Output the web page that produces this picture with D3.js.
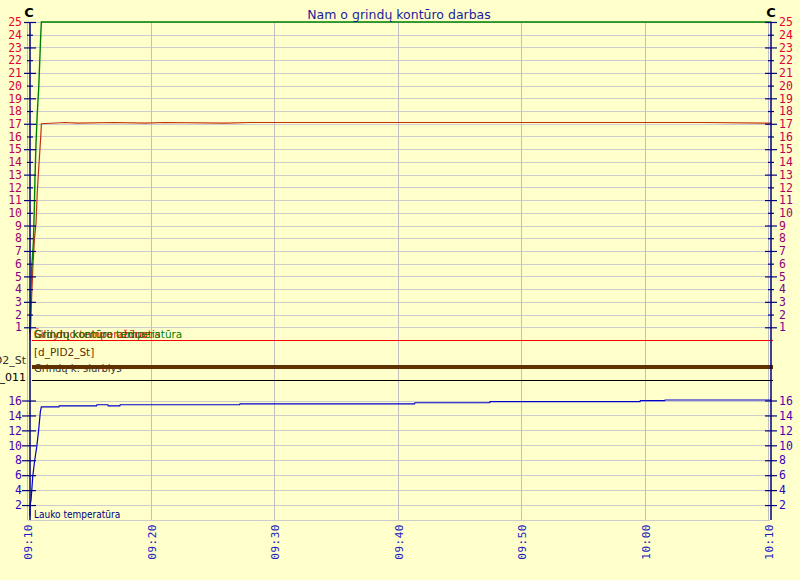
<!DOCTYPE html>
<html><head><meta charset="utf-8">
<script src="https://cdn.jsdelivr.net/npm/d3@7"></script>
<style>
body{margin:0;background:#ffffcc;}
svg{display:block;}
</style></head><body>
<svg id="chart" width="800" height="580"></svg>
<script>
// ---------- data ----------
const chartTitle = "Nam o grindų kontūro darbas";
const unitLabel = "C";
const timeTicks = ["09:10","09:20","09:30","09:40","09:50","10:00","10:10"];
const topTicks = [1,2,3,4,5,6,7,8,9,10,11,12,13,14,15,16,17,18,19,20,21,22,23,24,25];
const bottomTicks = [2,4,6,8,10,12,14,16];

// Grindų kontūro temperatūra (green, top panel)
const greenTimes  = ["09:10:08","09:10:10","09:10:18","09:10:26","09:10:31","09:10:34","09:10:39","09:10:45","09:10:52","09:10:57","09:11:02","09:11:05","10:10:12"];
const greenValues = [0.5,1.5,5.7,7.6,10.5,12.8,15.5,17.8,19.8,21.9,24.0,26.0,26.0];

// Šildymo temperatūra (dark red, top panel)
const redTimes  = ["09:10:10","09:10:13","09:10:18","09:10:23","09:10:31","09:10:39","09:10:45","09:10:52","09:10:58","09:11:03","09:11:05","09:13:00","09:14:00","09:17:00","09:19:30","09:21:00","09:26:00","09:28:00","09:45:00","10:05:00","10:10:12"];
const redValues = [0.0,1.0,3.5,5.5,7.9,9.2,11.6,13.5,15.0,16.3,17.0,17.1,17.05,17.1,17.05,17.1,17.05,17.1,17.1,17.1,17.05];

// Lauko temperatūra (blue, bottom panel)
const blueTimes  = ["09:10:09","09:10:10","09:10:15","09:10:23","09:10:33","09:10:42","09:10:52","09:11:00","09:11:05","09:12:30","09:12:32","09:15:33","09:15:35","09:16:28","09:16:30","09:17:26","09:17:28","09:27:08","09:27:10","09:41:18","09:41:20","09:47:23","09:47:25","09:59:33","09:59:35","10:01:33","10:01:35","10:10:12"];
const blueValues = [0.5,2.0,2.7,5.8,8.1,9.7,12.1,14.5,15.15,15.15,15.28,15.28,15.43,15.43,15.28,15.28,15.43,15.43,15.55,15.55,15.7,15.7,15.84,15.84,15.97,15.97,16.07,16.07];

// digital series (all off)
const digitalNames  = ["Grindų kontūro užduotis","d_PID2_St","d_011"];
const digitalTimes  = ["09:10:10","10:10:12"];
const digitalValues = [[0,0],[0,0],[0,0]];

// legend texts
const topLegendNames = ["Šildymo temperatūra","Grindų kontūro užduotis","Grindų kontūro temperatūra"];
const pidLabel = "[d_PID2_St]";
const pumpLabel = "Grindų k. siurblys";
const bottomLegendName = "Lauko temperatūra";

// ---------- styles ----------
const topLegendColors = ["#c03010","#ff0000","#008000"];
const digitalColors = ["#ff0000","#603000","#000000"];
const digitalWidths = [1,4,1];
const digitalBase = [340.5,367,380.5];

const svg = d3.select("#chart");
const parse = d3.timeParse("%H:%M:%S");
const parseHM = d3.timeParse("%H:%M");

const x = d3.scaleTime().domain([parseHM("09:10"), parseHM("10:10")]).range([28, 769]);
const yTop = d3.scaleLinear().domain([0,25]).range([340,22]).clamp(true);
const yBot = d3.scaleLinear().domain([0,16]).range([520,400.5]);
const AX_L = 30, AX_R = 771;

const labelColor = d3.interpolateRgb("#f0002a","#2800d0");
const colorAt = y => labelColor((y-22)/(520-22));

// ---------- grid ----------
const grid = svg.append("g").attr("stroke","#cccccc").attr("stroke-width",1).attr("shape-rendering","crispEdges");
grid.selectAll("line.ht").data([0].concat(topTicks)).join("line")
  .attr("x1",AX_L).attr("x2",AX_R-1).attr("y1",d=>Math.round(yTop(d))+0.5).attr("y2",d=>Math.round(yTop(d))+0.5);
grid.selectAll("line.hb").data([0].concat(bottomTicks)).join("line").attr("class","hb")
  .attr("x1",AX_L-2).attr("x2",AX_R-1).attr("y1",d=>Math.round(yBot(d))+0.5).attr("y2",d=>Math.round(yBot(d))+0.5);
grid.selectAll("line.v").data(timeTicks).join("line").attr("class","v")
  .attr("x1",d=>Math.round(x(parseHM(d)))-0.5).attr("x2",d=>Math.round(x(parseHM(d)))-0.5)
  .attr("y1",22).attr("y2",520).attr("stroke","#c0c0c0");

// ---------- legend texts in middle band ----------
topLegendNames.forEach((n,i)=>{
  svg.append("text").attr("x",34).attr("y",338).text(n)
    .attr("fill",topLegendColors[i]).attr("font-family","DejaVu Sans").attr("font-size","10.5px");
});
svg.append("text").attr("x",34).attr("y",356).text(pidLabel)
  .attr("fill","#603000").attr("font-family","DejaVu Sans").attr("font-size","10.5px");
svg.append("text").attr("x",34).attr("y",372).text(pumpLabel)
  .attr("fill","#333333").attr("font-family","DejaVu Sans").attr("font-size","10px");
svg.append("text").attr("x",26).attr("y",364).attr("text-anchor","end").text(digitalNames[1])
  .attr("fill","#333").attr("font-family","DejaVu Sans").attr("font-size","11px");
svg.append("text").attr("x",26).attr("y",381).attr("text-anchor","end").text(digitalNames[2])
  .attr("fill","#000").attr("font-family","DejaVu Sans").attr("font-size","11px");
svg.append("text").attr("x",34).attr("y",518).text(bottomLegendName)
  .attr("fill","#000080").attr("font-family","DejaVu Sans Condensed, DejaVu Sans").attr("font-size","10px");

// ---------- digital lines ----------
digitalNames.forEach((n,i)=>{
  const yD = d3.scaleLinear().domain([0,1]).range([digitalBase[i], digitalBase[i]-10]);
  const pts = digitalTimes.map((t,j)=>({t:parse(t), v:digitalValues[i][j]}));
  svg.append("path").datum(pts)
    .attr("d", d3.line().curve(d3.curveStepAfter).x(d=>x(d.t)+2).y(d=>yD(d.v)))
    .attr("fill","none").attr("stroke",digitalColors[i]).attr("stroke-width",digitalWidths[i])
    .attr("shape-rendering","crispEdges");
});

// ---------- analog series ----------
function series(times, values){ return times.map((t,i)=>({t:parse(t), v:values[i]})); }
const lineTop = d3.line().x(d=>x(d.t)).y(d=>yTop(d.v));
const lineBot = d3.line().x(d=>x(d.t)).y(d=>yBot(d.v));
svg.append("path").datum(series(redTimes,redValues)).attr("d",lineTop)
  .attr("fill","none").attr("stroke","#c03010").attr("stroke-width",1.2);
svg.append("path").datum(series(greenTimes,greenValues)).attr("d",lineTop)
  .attr("fill","none").attr("stroke","#008000").attr("stroke-width",1.4);
svg.append("path").datum(series(blueTimes,blueValues)).attr("d",lineBot)
  .attr("fill","none").attr("stroke","#0000cc").attr("stroke-width",1.2);

// ---------- axes ----------
const axisColor = "#000080";
function styleAxis(g, side, scale, longFn){
  g.select(".domain").remove();
  g.selectAll(".tick line").attr("stroke",axisColor).attr("stroke-width",1.2)
    .attr("x1", d=> longFn(d) ? -6 : -3).attr("x2", d=> longFn(d) ? 6 : 3);
  g.selectAll(".tick text")
    .attr("x", side==="left" ? -8 : 8)
    .attr("fill", d=>colorAt(scale(d)))
    .attr("font-family","DejaVu Sans Mono").attr("font-size","11.5px");
}
const gL1 = svg.append("g").attr("transform",`translate(${AX_L},0)`)
  .call(d3.axisLeft(yTop).tickValues(topTicks).tickSizeOuter(0));
styleAxis(gL1,"left",yTop,d=>d%2===1);
const gR1 = svg.append("g").attr("transform",`translate(${AX_R},0)`)
  .call(d3.axisRight(yTop).tickValues(topTicks).tickSizeOuter(0));
styleAxis(gR1,"right",yTop,d=>d%2===1);
const gL2 = svg.append("g").attr("transform",`translate(${AX_L},0)`)
  .call(d3.axisLeft(yBot).tickValues(bottomTicks).tickSizeOuter(0));
styleAxis(gL2,"left",yBot,d=>true);
gL2.selectAll(".tick line").attr("x1",-8);
const gR2 = svg.append("g").attr("transform",`translate(${AX_R},0)`)
  .call(d3.axisRight(yBot).tickValues(bottomTicks).tickSizeOuter(0));
styleAxis(gR2,"right",yBot,d=>true);

[AX_L, AX_R].forEach(ax=>{
  svg.append("line").attr("x1",ax).attr("x2",ax).attr("y1",22).attr("y2",520)
    .attr("stroke",axisColor).attr("stroke-width",1.5);
});

// time axis
const gX = svg.append("g").attr("transform","translate(0,520)")
  .call(d3.axisBottom(x).tickValues(timeTicks.map(parseHM)).tickFormat(d3.timeFormat("%H:%M")).tickSize(0).tickSizeOuter(0));
gX.select(".domain").remove();
gX.selectAll(".tick text")
  .attr("transform","rotate(-90)").attr("text-anchor","end")
  .attr("x",-4).attr("y",0).attr("dy","0.35em")
  .attr("fill","#2020c0").attr("font-family","DejaVu Sans Mono").attr("font-size","11px")
  .attr("letter-spacing","0.5px");

// title & unit labels
svg.append("text").attr("x",399).attr("y",19).attr("text-anchor","middle").text(chartTitle)
  .attr("fill","#1c1c9c").attr("font-family","DejaVu Sans").attr("font-size","12.5px");
[AX_L-1, AX_R].forEach(ax=>{
  svg.append("text").attr("x",ax).attr("y",17).attr("text-anchor","middle").text(unitLabel)
    .attr("fill","#000").attr("font-family","DejaVu Sans").attr("font-weight","bold").attr("font-size","13px");
});
</script>
</body></html>
